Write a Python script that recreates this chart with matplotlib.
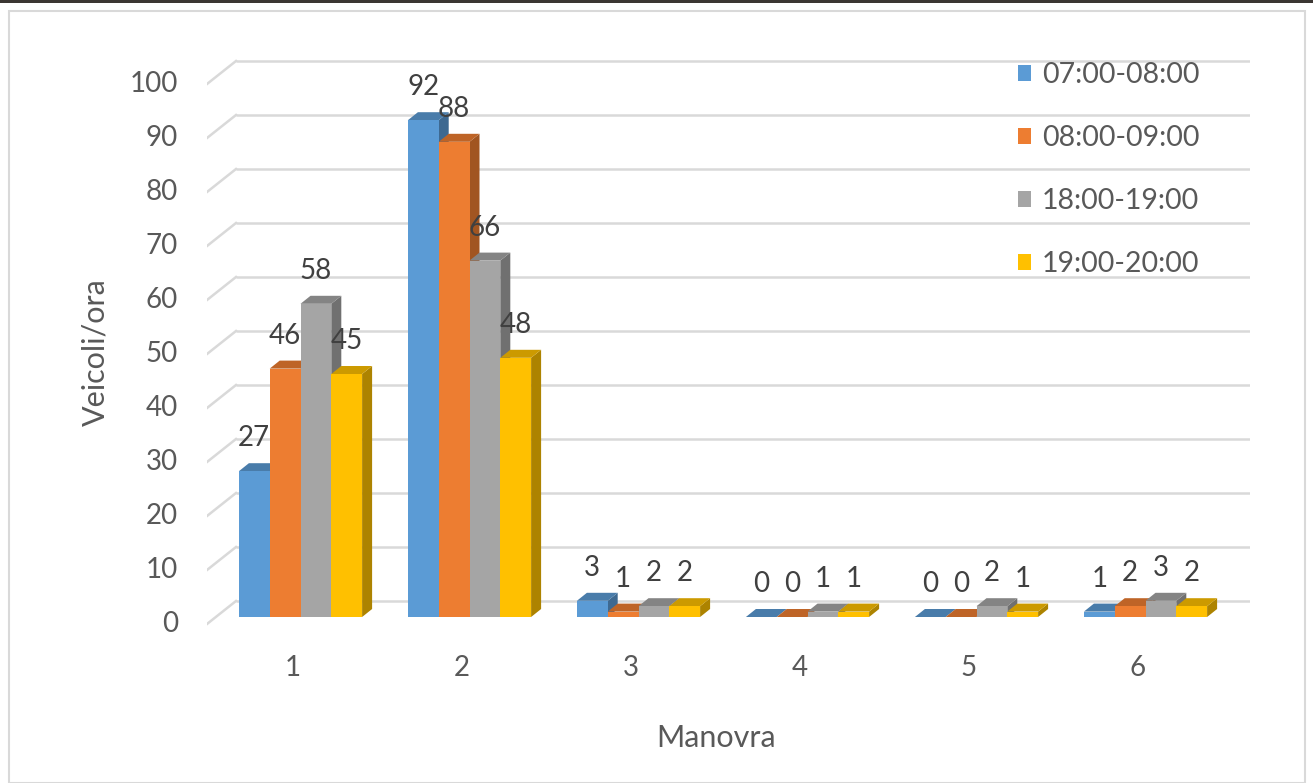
import matplotlib.pyplot as plt
import matplotlib.transforms as mtransforms
from matplotlib.patches import Polygon, Rectangle, Patch
import numpy as np

# data
categories = [1, 2, 3, 4, 5, 6]
series_labels = ['07:00-08:00', '08:00-09:00', '18:00-19:00', '19:00-20:00']
v_0708 = [27, 92, 3, 0, 0, 1]
v_0809 = [46, 88, 1, 0, 0, 2]
v_1819 = [58, 66, 2, 1, 2, 3]
v_1920 = [45, 48, 2, 1, 1, 2]
y_ticks = [0, 10, 20, 30, 40, 50, 60, 70, 80, 90, 100]

COLORS = ['#5B9BD5', '#ED7D31', '#A5A5A5', '#FFC000']
TEXT_COL = '#595959'
LABEL_COL = '#404040'
GRID_COL = '#D9D9D9'
FONT = ['Lato', 'DejaVu Sans']

W, H = 1313, 783
DPI = 100

# layout in pixels (style only)
AX_L, AX_R, AX_T, AX_B = 207, 1250, 40, 640
ZERO_PX = 617          # bar plane baseline
PX_PER_UNIT = 5.4
GROUP1_PX = 300.5
GROUP_STEP = 169.0
BAR_PX = 30.8
DEPTH_DX, DEPTH_DY = 10, 8     # bar depth
WALL_DX, WALL_DY = 29, 16      # back wall offset
FRONT_DY = 7                    # front plane offset


def shade(c, f):
    rgb = np.array(plt.matplotlib.colors.to_rgb(c))
    return tuple(rgb * f)


plt.rcParams['font.family'] = FONT
fig = plt.figure(figsize=(W / DPI, H / DPI), dpi=DPI)
fig.patch.set_facecolor('white')

ax = fig.add_axes([AX_L / W, 1 - AX_B / H, (AX_R - AX_L) / W, (AX_B - AX_T) / H])
ax.set_xlim(1 + (AX_L - GROUP1_PX) / GROUP_STEP, 1 + (AX_R - GROUP1_PX) / GROUP_STEP)
ax.set_ylim((ZERO_PX - AX_B) / PX_PER_UNIT, (ZERO_PX - AX_T) / PX_PER_UNIT)
ax.axis('off')

blend = mtransforms.blended_transform_factory(ax.transAxes, ax.transData)
tr_back = mtransforms.offset_copy(blend, fig=fig, x=0, y=WALL_DY, units='dots')
tr_front = mtransforms.offset_copy(blend, fig=fig, x=0, y=-FRONT_DY, units='dots')
wall_x0 = WALL_DX / (AX_R - AX_L)

# back wall gridlines + diagonal ticks
for v in y_ticks:
    ax.plot([wall_x0, 1], [v, v], color=GRID_COL, lw=1.8, transform=tr_back,
            solid_capstyle='butt', zorder=1)
    # diagonal from front plane to back wall, in pixels
    p0 = tr_front.transform((0, v))
    p1 = tr_back.transform((wall_x0, v))
    ax.plot([p0[0], p1[0]], [p0[1], p1[1]], color=GRID_COL, lw=1.8,
            transform=None, zorder=1)
    ax.text(-29 / (AX_R - AX_L), v, str(v), ha='right', va='center',
            fontsize=20, color=TEXT_COL, transform=tr_front)

# 3D-looking bars
bw = BAR_PX / GROUP_STEP
ddx = DEPTH_DX / GROUP_STEP
ddy = DEPTH_DY / PX_PER_UNIT
all_series = [v_0708, v_0809, v_1819, v_1920]
for ci, cat in enumerate(categories):
    for si, vals in enumerate(all_series):
        v = vals[ci]
        c = COLORS[si]
        xl = cat + (si - 2) * bw
        z = 3 + ci * 10 + si
        side = Polygon([(xl + bw, 0), (xl + bw + ddx, ddy), (xl + bw + ddx, v + ddy), (xl + bw, v)],
                       closed=True, facecolor=shade(c, 0.68), edgecolor='none', zorder=z)
        top = Polygon([(xl, v), (xl + bw, v), (xl + bw + ddx, v + ddy), (xl + ddx, v + ddy)],
                      closed=True, facecolor=shade(c, 0.8), edgecolor='none', zorder=z)
        ax.add_patch(side)
        ax.add_patch(top)
        ax.bar(xl, v, width=bw, align='edge', color=c, zorder=z)
        ax.annotate(str(v), (xl + bw / 2, v), xytext=(0, 33), textcoords='offset pixels',
                    ha='center', va='center', fontsize=20, color=LABEL_COL, zorder=100)

# category labels
for cat in categories:
    ax.annotate(str(cat), (cat, 0), xytext=(-8, -51), textcoords='offset pixels',
                ha='center', va='center', fontsize=20, color=TEXT_COL)

fig.text(716 / W, 1 - 738 / H, 'Manovra', ha='center', va='center', fontsize=22, color=TEXT_COL)
fig.text(95 / W, 1 - 352 / H, 'Veicoli/ora', ha='center', va='center', rotation=90,
         fontsize=22, color=TEXT_COL)

handles = [Patch(facecolor=c, edgecolor='none') for c in COLORS]
fig.legend(handles, series_labels, loc='upper left', bbox_to_anchor=(1018 / W, 1 - 62 / H),
           frameon=False, fontsize=20.5, labelcolor=TEXT_COL, handlelength=0.45,
           handleheight=0.45, handletextpad=0.4, labelspacing=1.3, borderpad=0,
           borderaxespad=0)

# chart area border and dark strip at top of screenshot
fig.patches.append(Rectangle((9 / W, 0), (1305 - 9) / W, 1 - 11 / H, transform=fig.transFigure,
                             fill=False, edgecolor=GRID_COL, lw=1.5))
fig.patches.append(Rectangle((0, 1 - 3 / H), 1, 3 / H, transform=fig.transFigure,
                             facecolor='#3b3632', edgecolor='none'))

fig.savefig('out.png', dpi=DPI)
